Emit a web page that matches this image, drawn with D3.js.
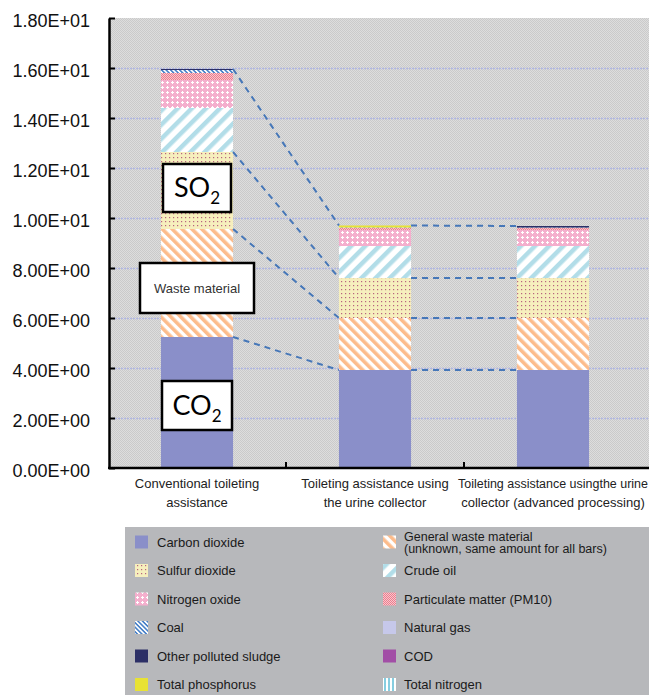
<!DOCTYPE html>
<html>
<head>
<meta charset="utf-8">
<script src="https://cdn.jsdelivr.net/npm/d3@7"></script>
<style>
  body { margin: 0; background: #fff; }
  svg { display: block; font-family: "Liberation Sans", Arial, sans-serif; }
</style>
</head>
<body>
<svg id="chart" width="649" height="695"></svg>
<script>
// ---- data ----
const categories = ["conventional", "urineCollector", "urineCollectorAdvanced"];
const categoryLabels = [
  ["Conventional toileting", "assistance"],
  ["Toileting assistance using", "the urine collector"],
  ["Toileting assistance usingthe urine", "collector (advanced processing)"]
];
const yTicks = [0, 2, 4, 6, 8, 10, 12, 14, 16, 18];

const carbonDioxide    = [5.24, 3.92, 3.92];
const generalWaste     = [4.32, 2.08, 2.08];
const sulfurDioxide    = [3.08, 1.60, 1.60];
const crudeOil         = [1.76, 1.28, 1.28];
const nitrogenOxide    = [1.12, 0.64, 0.64];
const particulate      = [0.28, 0.08, 0.08];
const coal             = [0.12, 0.02, 0.02];
const naturalGas       = [0.00, 0.00, 0.00];
const otherSludge      = [0.04, 0.00, 0.06];
const cod              = [0.00, 0.00, 0.00];
const totalPhosphorus  = [0.00, 0.08, 0.00];
const totalNitrogen    = [0.00, 0.00, 0.00];

const seriesNames = [
  "Carbon dioxide",
  ["General waste material", "(unknown, same amount for all bars)"],
  "Sulfur dioxide", "Crude oil", "Nitrogen oxide", "Particulate matter (PM10)",
  "Coal", "Natural gas", "Other polluted sludge", "COD",
  "Total phosphorus", "Total nitrogen"
];
const seriesValues = [
  carbonDioxide, generalWaste, sulfurDioxide, crudeOil, nitrogenOxide, particulate,
  coal, naturalGas, otherSludge, cod, totalPhosphorus, totalNitrogen
];
const seriesFills = [
  "#8a8fc9", "url(#p-waste)", "url(#p-so2)", "url(#p-crude)", "url(#p-nox)", "url(#p-pm10)",
  "url(#p-coal)", "#c6c8ea", "#2c2f66", "#a24ea6", "#e8e235", "url(#p-tn)"
];
// series whose tops are joined between neighbouring bars (index into stack; -1 = total)
const connectorSeries = [0, 1, 2, -1];

// text boxes placed on the first bar
const annotations = [
  { main: "SO", sub: "2", cat: 0, value: 11.2, w: 68, h: 48 },
  { main: "Waste material", cat: 0, value: 7.2, w: 114, h: 50 },
  { main: "CO", sub: "2", cat: 0, value: 2.5, w: 70, h: 49 }
];

// ---- layout ----
const width = 649, height = 695;
const plot = { left: 109, top: 18, bottom: 468, right: 649 };

const svg = d3.select("#chart");
const defs = svg.append("defs");

function stripePattern(id, color, size, band, angle) {
  const p = defs.append("pattern").attr("id", id)
    .attr("patternUnits", "userSpaceOnUse")
    .attr("width", size).attr("height", size)
    .attr("patternTransform", `rotate(${angle})`);
  p.append("rect").attr("width", size).attr("height", size).attr("fill", "#fff");
  p.append("rect").attr("width", band).attr("height", size).attr("fill", color);
}
stripePattern("p-waste", "#fcbc8c", 7, 3.6, -45);
stripePattern("p-crude", "#b2dde8", 10, 4.5, 45);
stripePattern("p-coal", "#4a82c8", 3.2, 1.6, -45);
stripePattern("p-tn", "#86cde0", 4, 2, 0);

// sulfur dioxide: pale yellow with small dark dots
{
  const p = defs.append("pattern").attr("id", "p-so2").attr("patternUnits", "userSpaceOnUse")
    .attr("width", 4).attr("height", 4);
  p.append("rect").attr("width", 4).attr("height", 4).attr("fill", "#f6efbd");
  p.append("rect").attr("x", 1).attr("y", 1).attr("width", 1.2).attr("height", 1.2).attr("fill", "#b8647f");
}
// nitrogen oxide: pink with white crosses
{
  const p = defs.append("pattern").attr("id", "p-nox").attr("patternUnits", "userSpaceOnUse")
    .attr("width", 5).attr("height", 5);
  p.append("rect").attr("width", 5).attr("height", 5).attr("fill", "#f4afcd");
  p.append("rect").attr("x", 2).attr("y", 1).attr("width", 1).attr("height", 3).attr("fill", "#fff");
  p.append("rect").attr("x", 1).attr("y", 2).attr("width", 3).attr("height", 1).attr("fill", "#fff");
}
// particulate matter: fine red checker
{
  const p = defs.append("pattern").attr("id", "p-pm10").attr("patternUnits", "userSpaceOnUse")
    .attr("width", 2).attr("height", 2);
  p.append("rect").attr("width", 2).attr("height", 2).attr("fill", "#f8c6cd");
  p.append("rect").attr("width", 1).attr("height", 1).attr("fill", "#ec7d8e");
  p.append("rect").attr("x", 1).attr("y", 1).attr("width", 1).attr("height", 1).attr("fill", "#ec7d8e");
}
// plot background: fine grey texture
{
  const p = defs.append("pattern").attr("id", "p-bg").attr("patternUnits", "userSpaceOnUse")
    .attr("width", 2).attr("height", 2);
  p.append("rect").attr("width", 2).attr("height", 2).attr("fill", "#dddddd");
  p.append("rect").attr("width", 1).attr("height", 1).attr("fill", "#cacaca");
  p.append("rect").attr("x", 1).attr("y", 1).attr("width", 1).attr("height", 1).attr("fill", "#cacaca");
}

// ---- scales ----
const y = d3.scaleLinear().domain([0, 18]).range([plot.bottom, plot.top]);
const x = d3.scaleBand().domain(categories).range([108, 642]).padding(0);
const barRatio = 0.405;
const barW = x.bandwidth() * barRatio;
const barX = c => x(c) + (x.bandwidth() - barW) / 2;

// ---- plot background and grid ----
svg.append("rect")
  .attr("x", plot.left).attr("y", plot.top)
  .attr("width", plot.right - plot.left).attr("height", plot.bottom - plot.top)
  .attr("fill", "url(#p-bg)");

svg.append("g").selectAll("line")
  .data(yTicks.filter(t => t > 0 && t < 18))
  .join("line")
  .attr("x1", plot.left).attr("x2", plot.right)
  .attr("y1", d => y(d) + 0.5).attr("y2", d => y(d) + 0.5)
  .attr("stroke", "#b0b6e2").attr("stroke-width", 1.6)
  .attr("stroke-dasharray", "2,1");

// ---- stacked bars ----
const rows = categories.map((c, i) => {
  const r = { cat: c };
  seriesValues.forEach((vals, s) => { r["s" + s] = vals[i]; });
  return r;
});
const stack = d3.stack().keys(seriesValues.map((_, s) => "s" + s));
const stacked = stack(rows);

const gBars = svg.append("g");
stacked.forEach((layer, s) => {
  gBars.append("g").attr("fill", seriesFills[s])
    .selectAll("rect")
    .data(layer.filter(d => d[1] - d[0] > 0))
    .join("rect")
    .attr("x", d => barX(d.data.cat))
    .attr("width", barW)
    .attr("y", d => y(d[1]))
    .attr("height", d => y(d[0]) - y(d[1]));
});

// ---- series lines between bars ----
const topOf = (sIdx, i) => sIdx < 0
  ? d3.sum(seriesValues, v => v[i])
  : stacked[sIdx][i][1];
const gConn = svg.append("g")
  .attr("stroke", "#4677b8").attr("stroke-width", 2)
  .attr("stroke-dasharray", "6,5").attr("fill", "none");
for (let i = 0; i < categories.length - 1; i++) {
  connectorSeries.forEach(sIdx => {
    gConn.append("line")
      .attr("x1", barX(categories[i]) + barW)
      .attr("y1", y(topOf(sIdx, i)))
      .attr("x2", barX(categories[i + 1]))
      .attr("y2", y(topOf(sIdx, i + 1)));
  });
}

// ---- axes ----
function sciLabel(v) {
  const [m, e] = v.toExponential(2).split("e");
  const sign = e[0] === "-" ? "-" : "+";
  const digits = e.replace(/[+-]/, "").padStart(2, "0");
  return `${m}E${sign}${digits}`;
}
const yAxis = d3.axisLeft(y)
  .tickValues(yTicks)
  .tickFormat(sciLabel)
  .tickSizeInner(-6)
  .tickSizeOuter(0)
  .tickPadding(19);
const gy = svg.append("g").attr("transform", `translate(${plot.left},0)`).call(yAxis);
gy.select(".domain").attr("stroke", "#000").attr("stroke-width", 2.5);
gy.selectAll(".tick line").attr("stroke", "#000").attr("stroke-width", 2);
gy.selectAll(".tick text")
  .attr("font-size", 18).attr("fill", "#111")
  .attr("font-family", "'Liberation Sans', Arial, sans-serif")
  .attr("dy", "0.45em");

// x axis line and category boundary ticks
const gx = svg.append("g");
gx.append("line")
  .attr("x1", plot.left - 1).attr("x2", plot.right)
  .attr("y1", plot.bottom).attr("y2", plot.bottom)
  .attr("stroke", "#000").attr("stroke-width", 2.5);
gx.selectAll("line.tk")
  .data(categories.slice(0, -1))
  .join("line").attr("class", "tk")
  .attr("x1", d => x(d) + x.bandwidth()).attr("x2", d => x(d) + x.bandwidth())
  .attr("y1", plot.bottom).attr("y2", plot.bottom - 6)
  .attr("stroke", "#000").attr("stroke-width", 2);
categories.forEach((d, i) => {
  const cx = x(d) + x.bandwidth() / 2;
  categoryLabels[i].forEach((line, k) => {
    const t = gx.append("text")
      .attr("text-anchor", "middle")
      .attr("font-size", 13).attr("fill", "#222")
      .attr("x", cx).attr("y", 488 + k * 19)
      .text(line);
    // shrink a line that would run past the right edge of the page
    const len = t.node().getComputedTextLength();
    const room = 2 * (width - 1 - cx);
    if (len > room) t.attr("font-size", 13 * room / len);
  });
});

// ---- annotation boxes ----
const gAnn = svg.append("g");
annotations.forEach(a => {
  const cx = x(categories[a.cat]) + x.bandwidth() / 2;
  const cy = y(a.value);
  gAnn.append("rect")
    .attr("x", cx - a.w / 2).attr("y", cy - a.h / 2)
    .attr("width", a.w).attr("height", a.h)
    .attr("fill", "#fff").attr("stroke", "#000").attr("stroke-width", 2.5);
  if (a.sub) {
    const t = gAnn.append("text")
      .attr("x", cx).attr("y", cy + 9)
      .attr("text-anchor", "middle")
      .attr("font-family", "Lato, 'Open Sans', sans-serif")
      .attr("font-size", 27).attr("fill", "#000");
    t.append("tspan").text(a.main);
    t.append("tspan").attr("dy", 7).attr("font-size", 17).text(a.sub);
  } else {
    gAnn.append("text")
      .attr("x", cx).attr("y", cy + 5)
      .attr("text-anchor", "middle")
      .attr("font-size", 13).attr("fill", "#333")
      .text(a.main);
  }
});

// ---- legend ----
const legend = svg.append("g");
legend.append("rect")
  .attr("x", 125).attr("y", 527).attr("width", width - 125).attr("height", height - 527)
  .attr("fill", "#b7b8bb");
const colX = [135, 383], textX = [157, 404];
const rowY0 = 542, rowStep = 28.5;
seriesNames.forEach((name, i) => {
  const col = i % 2, row = Math.floor(i / 2);
  const cy = rowY0 + row * rowStep;
  legend.append("rect")
    .attr("x", colX[col]).attr("y", cy - 6.5)
    .attr("width", 13).attr("height", 13)
    .attr("fill", seriesFills[i]);
  if (Array.isArray(name)) {
    // two stacked lines, tightly spaced
    name.forEach((line, k) => {
      legend.append("text")
        .attr("font-size", 12.5).attr("fill", "#1a1a1a")
        .attr("x", textX[col]).attr("y", cy - 1.5 + k * 12.5)
        .text(line);
    });
  } else {
    legend.append("text")
      .attr("font-size", 13).attr("fill", "#1a1a1a")
      .attr("x", textX[col]).attr("y", cy + 4.5).text(name);
  }
});
</script>
</body>
</html>
